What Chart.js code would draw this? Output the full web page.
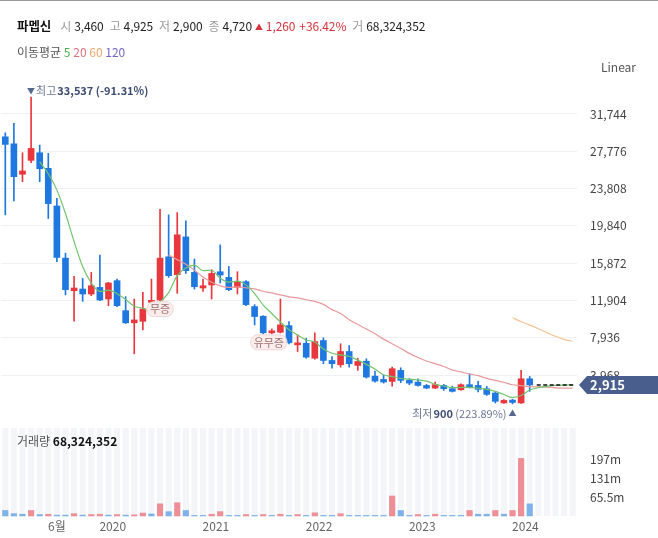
<!DOCTYPE html>
<html><head><meta charset="utf-8">
<script src="https://cdn.jsdelivr.net/npm/chart.js@4.4.1/dist/chart.umd.min.js"></script>
<style>
html,body{margin:0;padding:0;background:#fff;}
body{width:658px;height:538px;position:relative;overflow:hidden;font-family:'Noto Sans CJK KR',sans-serif;}
#c{position:absolute;left:0;top:0;}
.t{position:absolute;white-space:nowrap;line-height:18px;}
.g{color:#9a9a9a}.n{color:#222}.r{color:#d8323a}
#hdr span{display:inline-block}
</style></head><body>
<canvas id="c" width="658" height="538"></canvas>
<div style="position:absolute;left:0;top:0;width:658px;height:1px;background:#999"></div>
<div id="hdr" class="t" style="left:17px;top:17px;font-size:12px;letter-spacing:-0.1px">
<span style="font-weight:700;color:#111;font-size:12.5px;margin-right:9px">파멥신</span><span class="g" style="margin-right:3px">시</span><span class="n" style="margin-right:6px">3,460</span><span class="g" style="margin-right:3px">고</span><span class="n" style="margin-right:6px">4,925</span><span class="g" style="margin-right:3px">저</span><span class="n" style="margin-right:6px">2,900</span><span class="g" style="margin-right:3px">종</span><span class="n" style="margin-right:3px">4,720</span><span class="r" style="font-size:8px;margin-right:3px;vertical-align:1px">▲</span><span class="r" style="margin-right:4px">1,260</span><span class="r" style="margin-right:6px">+36.42%</span><span class="g" style="margin-right:3px">거</span><span class="n">68,324,352</span>
</div>
<div class="t" style="left:17px;top:43px;font-size:12px;color:#555">이동평균 <span style="color:#4caf50">5</span> <span style="color:#d9747f">20</span> <span style="color:#e9a870">60</span> <span style="color:#7566c4">120</span></div>
<div class="t" style="left:601px;top:58px;font-size:12px;color:#555">Linear</div>
<div class="t" style="left:17px;top:432px;font-size:12px;color:#555">거래량 <b style="color:#111">68,324,352</b></div>
<script>
// ---- data (monthly, index 0 = 2018-12) ----
const months = ['2018-12','2019-01','2019-02','2019-03','2019-04','2019-05','2019-06','2019-07','2019-08','2019-09','2019-10','2019-11','2019-12',
'2020-01','2020-02','2020-03','2020-04','2020-05','2020-06','2020-07','2020-08','2020-09','2020-10','2020-11','2020-12',
'2021-01','2021-02','2021-03','2021-04','2021-05','2021-06','2021-07','2021-08','2021-09','2021-10','2021-11','2021-12',
'2022-01','2022-02','2022-03','2022-04','2022-05','2022-06','2022-07','2022-08','2022-09','2022-10','2022-11','2022-12',
'2023-01','2023-02','2023-03','2023-04','2023-05','2023-06','2023-07','2023-08','2023-09','2023-10','2023-11','2023-12',
'2024-01','2024-02','2024-03','2024-04','2024-05','2024-06'];
const open  = [29315,28570,25330,26810,27620,25960,21960,16410,12940,13120,12590,13290,12060,14010,10820,9520,9690,11700,11950,16550,14640,18670,14890,13230,13550,14960,14360,13300,13900,11250,10220,8460,8520,9230,7180,7350,5760,7640,5520,5060,6470,4990,5440,3850,3500,3290,4460,3400,3220,2860,2580,2860,2510,2410,2940,2860,2510,2050,1000,1300,1000,3570];
const high  = [29740,30740,27620,33537,28430,27550,22780,16940,14460,14250,14890,16720,13830,14180,12310,12060,12770,14180,21610,21010,21250,20370,16310,14180,15170,17820,15520,14960,14010,11460,10290,8880,12060,9650,8240,7880,8460,7920,5940,7290,7110,5760,5700,4380,3930,4810,4740,3570,3570,2970,3220,2970,2790,3040,4100,3290,2760,2160,1350,1380,4460,3820];
const low   = [21010,22490,24540,26560,24540,20620,16020,12490,9690,11810,12410,11880,11350,11250,9450,6230,8770,11600,11880,14360,12660,14780,13120,12870,12060,13760,12940,12590,11350,9300,8350,8350,8450,7290,6470,5760,5650,5170,4700,4810,4810,4460,3640,3220,3110,2790,3150,2940,2790,2510,2510,2330,2160,2330,2580,2160,1800,990,950,900,950,2230];
const close = [28510,25070,25680,28080,25920,22210,16480,13050,13230,12590,13470,11950,13760,11350,9520,9830,11000,11900,16410,14540,18890,15070,13370,13470,14780,14610,13050,13900,11460,10190,8460,8590,9300,7400,7350,5870,7530,5520,5170,6470,5170,5410,3750,3320,3220,4640,3400,3110,2860,2580,2940,2510,2230,2940,2690,2440,1910,1170,1270,1050,3570,2915];
const volume = [19,8,6,19,5,6,3,3,8,3,5,6,3,5,3,4,10,7,42,15,46,19,2,2,6,15,2,2,5,2,5,2,6,2,5,2,11,2,2,8,2,2,2,2,2,69,19,2,5,2,6,2,2,2,19,6,6,19,6,19,199,42].map(v=>v*1e6);
const volumeUp = [0,0,0,1,0,1,0,0,1,0,1,1,0,1,0,1,1,0,1,0,1,0,0,0,1,1,0,0,1,0,1,0,1,0,1,0,1,0,0,1,0,0,0,0,0,1,0,0,1,0,1,0,0,0,1,0,0,1,0,1,1,0];
const ma5 = [null,null,null,null,26650,25390,23670,21150,18180,15510,13760,12860,13000,12620,12010,11280,11090,10720,11730,12740,14550,15360,15660,15070,15120,14260,13860,13960,13560,12640,11410,10520,9600,8790,8220,7700,7490,6730,6290,6110,5970,5550,5100,4600,4000,3800,3600,3540,3450,3320,2980,2800,2620,2640,2660,2560,2440,2230,1900,1570,1790,2370,2620,2760,2860,2900,2915];
const ma20 = [null,null,null,null,null,null,null,null,null,null,null,null,null,null,null,null,null,null,null,16730,16250,15750,15130,14400,13840,13460,13290,13340,13250,13130,12880,12710,12490,12290,12180,11980,11810,11490,10930,10520,9840,9350,8870,8370,7790,7290,6810,6270,5840,5460,5180,4880,4520,4300,4070,3900,3610,3400,3200,2930,2850,2730,2710,2690,2600,2580,2570];
const ma60 = [null,null,null,null,null,null,null,null,null,null,null,null,null,null,null,null,null,null,null,null,null,null,null,null,null,null,null,null,null,null,null,null,null,null,null,null,null,null,null,null,null,null,null,null,null,null,null,null,null,null,null,null,null,null,null,null,null,null,null,10060,9640,9280,8900,8480,8090,7770,7550];
const priceTicks = [3968,7936,11904,15872,19840,23808,27776,31744];
const volTicks = [65.5e6,131e6,197e6];
const volTickLabels = ['65.5m','131m','197m'];
const xTickMonths = ['2019-06','2020-01','2021-01','2022-01','2023-01','2024-01'];
const xTickLabels = ['6월','2020','2021','2022','2023','2024'];
const events = [{month:'2020-06', text:'무증'},{month:'2021-07', text:'유무증'}];

// ---- build ----
const RED='#e8383e', BLUE='#1f78e0';
const up = close.map((c,i)=>c>=open[i]);
const candleCol = up.map(u=>u?RED:BLUE);
const xTickPos = xTickMonths.map((m,k)=>months.indexOf(m) - (xTickLabels[k].length===4?0.5:0));
const toPts = arr => arr.map((v,i)=>v==null?null:{x:i,y:v}).filter(p=>p);
const fmt = v => Math.round(v).toLocaleString('en-US');

const stripes = {id:'stripes', beforeDatasetsDraw(ch){
  const {ctx}=ch, xs=ch.scales.x, yv=ch.scales.yv;
  ctx.save(); ctx.fillStyle='#f3f5f9';
  const b=yv.getPixelForValue(0);
  for(let i=0;i<months.length;i++){const x=xs.getPixelForValue(i); ctx.fillRect(x-3,yv.top+6,6,b-yv.top-6);}
  ctx.restore();
}};
const annot = {id:'annot', afterDatasetsDraw(ch){
  const {ctx,chartArea}=ch, xs=ch.scales.x, ys=ch.scales.y;
  const last=close.length-1, lc=close[last];
  ctx.save();
  ctx.strokeStyle='#111'; ctx.lineWidth=1.5; ctx.setLineDash([4,2.5]);
  const yl=ys.getPixelForValue(lc);
  ctx.beginPath(); ctx.moveTo(xs.getPixelForValue(last)+7,yl); ctx.lineTo(chartArea.right-3,yl); ctx.stroke();
  ctx.setLineDash([]);
  let hi=0; high.forEach((v,i)=>{if(v>high[hi])hi=i;});
  let lo=0; low.forEach((v,i)=>{if(v<low[lo])lo=i;});
  ctx.textBaseline='middle';
  let x=xs.getPixelForValue(hi), y=ys.getPixelForValue(high[hi])-6;
  ctx.fillStyle='#56688f'; ctx.font="8px 'Noto Sans CJK KR'"; ctx.textAlign='center'; ctx.fillText('▼',x,y);
  ctx.textAlign='left'; ctx.font="11px 'Noto Sans CJK KR'"; ctx.fillStyle='#6b7794';
  ctx.fillText('최고',x+5,y); let w=ctx.measureText('최고').width;
  ctx.font="600 11px 'Noto Sans CJK KR'"; ctx.fillStyle='#3c4c72';
  ctx.fillText(fmt(high[hi])+' ('+((lc-high[hi])/high[hi]*100).toFixed(2)+'%)',x+6+w,y);
  x=xs.getPixelForValue(lo); y=ys.getPixelForValue(low[lo])+9.5;
  ctx.fillStyle='#56688f'; ctx.font="8px 'Noto Sans CJK KR'"; ctx.textAlign='center'; ctx.fillText('▲',x,y);
  ctx.textAlign='right'; ctx.font="400 11px 'Noto Sans CJK KR'"; ctx.fillStyle='#6b7794';
  const pct=' ('+((lc-low[lo])/low[lo]*100).toFixed(2)+'%)';
  ctx.fillText(pct,x-6,y); let w2=ctx.measureText(pct).width;
  ctx.font="600 11px 'Noto Sans CJK KR'"; ctx.fillStyle='#3c4c72';
  ctx.fillText(fmt(low[lo]),x-6-w2,y); let w3=ctx.measureText(fmt(low[lo])).width;
  ctx.font="400 11px 'Noto Sans CJK KR'"; ctx.fillStyle='#6b7794';
  ctx.fillText('최저',x-7-w2-w3,y);
  events.forEach(ev=>{
    const i=months.indexOf(ev.month);
    ctx.font="11px 'Noto Sans CJK KR'";
    const tw=ctx.measureText(ev.text).width+6, cx=xs.getPixelForValue(i)-(ev.text.length>2?3:0), top=ys.getPixelForValue(low[i])+1;
    ctx.fillStyle='rgba(252,236,236,0.92)'; ctx.strokeStyle='#efd6d6'; ctx.lineWidth=1;
    ctx.beginPath(); ctx.roundRect(cx-tw/2,top,tw,15,7); ctx.fill(); ctx.stroke();
    ctx.fillStyle='#9b7272'; ctx.textAlign='center'; ctx.fillText(ev.text,cx,top+7.5);
  });
  ctx.restore();
}};
const tag = {id:'tag', afterDraw(ch){
  const {ctx,chartArea}=ch, ys=ch.scales.y;
  const lc=close[close.length-1], y=ys.getPixelForValue(lc), r=chartArea.right;
  ctx.save(); ctx.fillStyle='#4a5e8e';
  ctx.beginPath(); ctx.moveTo(r+2,y); ctx.lineTo(r+10,y-9); ctx.lineTo(658,y-9); ctx.lineTo(658,y+9); ctx.lineTo(r+10,y+9); ctx.closePath(); ctx.fill();
  ctx.fillStyle='#fff'; ctx.font="600 13px 'Noto Sans CJK KR'"; ctx.textBaseline='middle'; ctx.textAlign='left';
  ctx.fillText(fmt(lc),590,y+0.5);
  ctx.restore();
}};

Chart.defaults.font.family="'Noto Sans CJK KR', sans-serif";
Chart.defaults.font.size=12;
const lineDs=(arr,col)=>({type:'line',data:toPts(arr),yAxisID:'y',borderColor:col,borderWidth:1.2,pointRadius:0,tension:0.35,cubicInterpolationMode:'monotone',order:0});
new Chart(document.getElementById('c'),{
  type:'bar',
  data:{datasets:[
    lineDs(ma5,'#72c46e'), lineDs(ma20,'#e8999c'), lineDs(ma60,'#f5c393'),
    {data:low.map((l,i)=>({x:i,y:[l,high[i]]})),yAxisID:'y',backgroundColor:candleCol,barThickness:1,grouped:false,order:2},
    {data:open.map((o,i)=>({x:i,y:[o,close[i]]})),yAxisID:'y',backgroundColor:candleCol,barThickness:6,minBarLength:2,grouped:false,order:1},
    {data:volume.map((v,i)=>({x:i,y:v})),yAxisID:'yv',backgroundColor:volumeUp.map(u=>u?'#ee8e96':'#7fb2ea'),barThickness:5.5,grouped:false,order:3}
  ]},
  options:{
    responsive:false, animation:false,
    layout:{padding:{top:60,left:1,right:0,bottom:0}},
    plugins:{legend:{display:false},tooltip:{enabled:false}},
    scales:{
      x:{type:'linear',min:-0.5,max:months.length-0.5,offset:false,grid:{display:false,drawTicks:false},border:{display:false},
        afterBuildTicks:s=>{s.ticks=xTickPos.map(v=>({value:v}));},
        afterFit:s=>{s.height=21;},
        ticks:{autoSkip:false,maxRotation:0,padding:2,color:'#666',callback:(v,i)=>xTickLabels[i]}},
      y:{type:'linear',position:'right',stack:'p',stackWeight:362,min:-1030,max:37490,
        grid:{color:'#f1f1f1',drawTicks:false},border:{display:false},
        afterBuildTicks:s=>{s.ticks=priceTicks.map(v=>({value:v}));},
        afterFit:s=>{s.width=81;},
        ticks:{padding:13,color:'#444',autoSkip:false,callback:v=>fmt(v)}},
      yv:{type:'linear',position:'right',stack:'p',stackWeight:95,min:-3.5e6,max:325e6,
        grid:{display:false,drawTicks:false},border:{display:false},
        afterBuildTicks:s=>{s.ticks=volTicks.map(v=>({value:v}));},
        afterFit:s=>{s.width=81;},
        ticks:{padding:13,color:'#444',autoSkip:false,callback:(v,i)=>volTickLabels[i]}}
    }
  },
  plugins:[stripes,annot,tag]
});
</script>
</body></html>
